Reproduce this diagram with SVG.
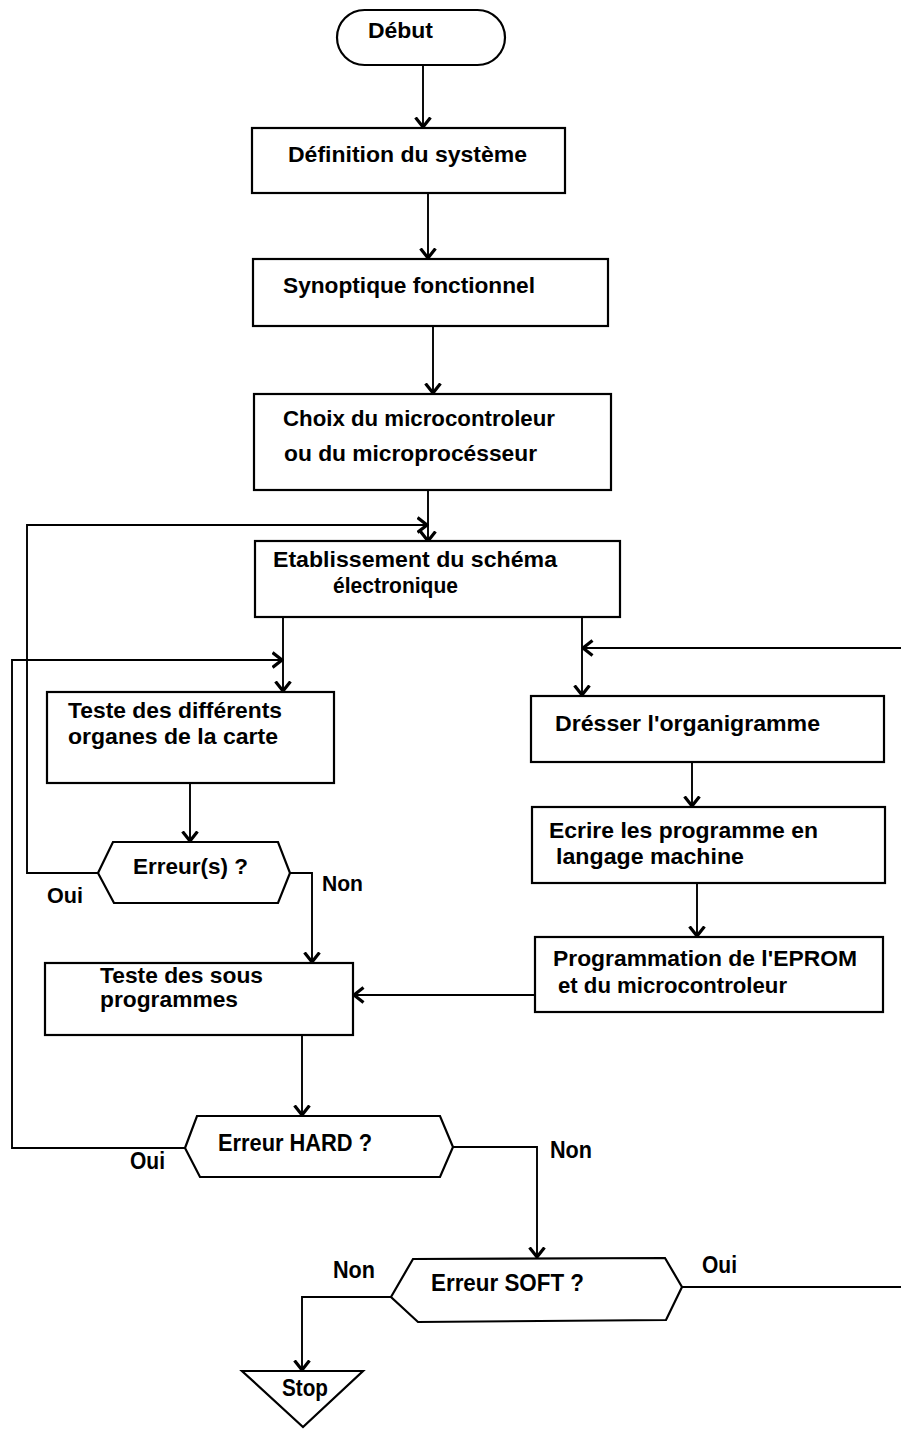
<svg xmlns="http://www.w3.org/2000/svg" width="901" height="1429" viewBox="0 0 901 1429">
  <style>
    .box { fill: #fff; stroke: #000; stroke-width: 2.2; }
    .wire { fill: none; stroke: #000; stroke-width: 1.9; }
    .lbl { font-family: "Liberation Sans", Arial, sans-serif; font-weight: bold; font-size: 22px; fill: #000; }
    .big { font-size: 23px; }
  </style>
  <defs>
    <marker id="arr" viewBox="0 0 12 18" refX="10.5" refY="9" markerWidth="12" markerHeight="18" markerUnits="userSpaceOnUse" orient="auto">
      <path d="M1,1.5 L10.5,9 L1,16.5" fill="none" stroke="#000" stroke-width="3.2"/>
    </marker>
  </defs>
  <rect width="901" height="1429" fill="#fff"/>

  <!-- connectors -->
  <g id="connectors">
    <path class="wire" d="M423,65 V127" marker-end="url(#arr)"/>
    <path class="wire" d="M428,193 V258" marker-end="url(#arr)"/>
    <path class="wire" d="M433,326 V393" marker-end="url(#arr)"/>
    <path class="wire" d="M428,490 V541" marker-end="url(#arr)"/>
    <path class="wire" d="M283,617 V691" marker-end="url(#arr)"/>
    <path class="wire" d="M582,617 V695" marker-end="url(#arr)"/>
    <path class="wire" d="M692,762 V806" marker-end="url(#arr)"/>
    <path class="wire" d="M697,883 V936" marker-end="url(#arr)"/>
    <path class="wire" d="M535,995 H354" marker-end="url(#arr)"/>
    <path class="wire" d="M190,783 V841" marker-end="url(#arr)"/>
    <!-- Erreur(s) : Oui loops back above the schematic step -->
    <path class="wire" d="M98,873 H27 V525 H427" marker-end="url(#arr)"/>
    <!-- Erreur(s) : Non -->
    <path class="wire" d="M290,873 H312 V962" marker-end="url(#arr)"/>
    <path class="wire" d="M302,1035 V1115" marker-end="url(#arr)"/>
    <!-- Erreur HARD : Oui loops back to the board tests -->
    <path class="wire" d="M185,1148 H12 V660 H282" marker-end="url(#arr)"/>
    <!-- Erreur HARD : Non -->
    <path class="wire" d="M453,1147 H537 V1257" marker-end="url(#arr)"/>
    <!-- Erreur SOFT : Non -> Stop -->
    <path class="wire" d="M391,1297 H302 V1370" marker-end="url(#arr)"/>
    <!-- Erreur SOFT : Oui runs off to the right -->
    <path class="wire" d="M682,1287 H901"/>
    <!-- return from the right into the software branch -->
    <path class="wire" d="M901,648 H583" marker-end="url(#arr)"/>
  </g>

  <g id="debut">
    <rect class="box" x="337" y="10" width="168" height="55" rx="27.5" ry="27.5"/>
    <text class="lbl" x="368" y="38" font-size="20" textLength="65" lengthAdjust="spacingAndGlyphs">Début</text>
  </g>

  <g id="definition">
    <rect class="box" x="252" y="128" width="313" height="65"/>
    <text class="lbl" x="288" y="162" textLength="239" lengthAdjust="spacingAndGlyphs">Définition du système</text>
  </g>

  <g id="synoptique">
    <rect class="box" x="253" y="259" width="355" height="67"/>
    <text class="lbl" x="283" y="293" textLength="252" lengthAdjust="spacingAndGlyphs">Synoptique fonctionnel</text>
  </g>

  <g id="choix">
    <rect class="box" x="254" y="394" width="357" height="96"/>
    <text class="lbl" x="283" y="426" textLength="272" lengthAdjust="spacingAndGlyphs">Choix du microcontroleur</text>
    <text class="lbl" x="284" y="461" textLength="253" lengthAdjust="spacingAndGlyphs">ou du microprocésseur</text>
  </g>

  <g id="schema">
    <rect class="box" x="255" y="541" width="365" height="76"/>
    <text class="lbl" x="273" y="567" textLength="284" lengthAdjust="spacingAndGlyphs">Etablissement du schéma</text>
    <text class="lbl" x="333" y="593" textLength="125" lengthAdjust="spacingAndGlyphs">électronique</text>
  </g>

  <g id="teste-organes">
    <rect class="box" x="47" y="692" width="287" height="91"/>
    <text class="lbl" x="68" y="718" textLength="214" lengthAdjust="spacingAndGlyphs">Teste des différents</text>
    <text class="lbl" x="68" y="744" textLength="210" lengthAdjust="spacingAndGlyphs">organes de la carte</text>
  </g>

  <g id="erreurs">
    <polygon class="box" points="98,873 113,842 278,842 290,873 278,903 114,903"/>
    <text class="lbl" x="133" y="874" textLength="115" lengthAdjust="spacingAndGlyphs">Erreur(s) ?</text>
    <text class="lbl" x="47" y="903" textLength="36" lengthAdjust="spacingAndGlyphs">Oui</text>
    <text class="lbl" x="322" y="891" textLength="41" lengthAdjust="spacingAndGlyphs">Non</text>
  </g>

  <g id="organigramme">
    <rect class="box" x="531" y="696" width="353" height="66"/>
    <text class="lbl" x="555" y="731" textLength="265" lengthAdjust="spacingAndGlyphs">Drésser l'organigramme</text>
  </g>

  <g id="ecrire">
    <rect class="box" x="532" y="807" width="353" height="76"/>
    <text class="lbl" x="549" y="838" textLength="269" lengthAdjust="spacingAndGlyphs">Ecrire les programme en</text>
    <text class="lbl" x="556" y="864" textLength="188" lengthAdjust="spacingAndGlyphs">langage machine</text>
  </g>

  <g id="programmation">
    <rect class="box" x="535" y="937" width="348" height="75"/>
    <text class="lbl" x="553" y="966" textLength="304" lengthAdjust="spacingAndGlyphs">Programmation de l'EPROM</text>
    <text class="lbl" x="558" y="993" textLength="229" lengthAdjust="spacingAndGlyphs">et du microcontroleur</text>
  </g>

  <g id="teste-sous-programmes">
    <rect class="box" x="45" y="963" width="308" height="72"/>
    <text class="lbl" x="100" y="983" textLength="163" lengthAdjust="spacingAndGlyphs">Teste des sous</text>
    <text class="lbl" x="100" y="1007" textLength="138" lengthAdjust="spacingAndGlyphs">programmes</text>
  </g>

  <g id="erreur-hard">
    <polygon class="box" points="185,1148 197,1116 440,1116 453,1147 440,1177 200,1177"/>
    <text class="lbl big" x="218" y="1151" textLength="154" lengthAdjust="spacingAndGlyphs">Erreur HARD ?</text>
    <text class="lbl big" x="130" y="1169" textLength="35" lengthAdjust="spacingAndGlyphs">Oui</text>
    <text class="lbl big" x="550" y="1158" textLength="42" lengthAdjust="spacingAndGlyphs">Non</text>
  </g>

  <g id="erreur-soft">
    <polygon class="box" points="391,1297 413,1259 665,1258 682,1287 666,1320 418,1322"/>
    <text class="lbl big" x="431" y="1291" textLength="153" lengthAdjust="spacingAndGlyphs">Erreur SOFT ?</text>
    <text class="lbl big" x="333" y="1278" textLength="42" lengthAdjust="spacingAndGlyphs">Non</text>
    <text class="lbl big" x="702" y="1273" textLength="35" lengthAdjust="spacingAndGlyphs">Oui</text>
  </g>

  <g id="stop">
    <polygon class="box" points="242,1371 363,1371 303,1427"/>
    <text class="lbl big" x="282" y="1396" textLength="46" lengthAdjust="spacingAndGlyphs">Stop</text>
  </g>
</svg>
